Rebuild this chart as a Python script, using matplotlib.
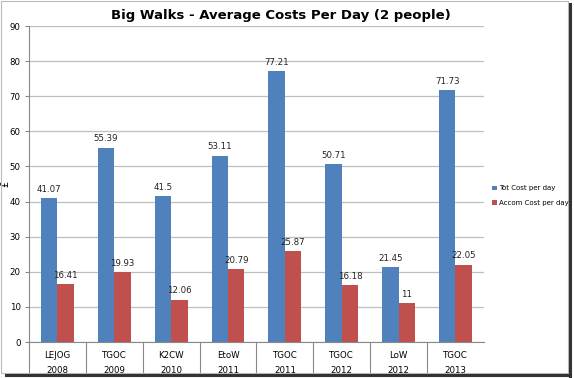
import numpy as np
import matplotlib.pyplot as plt
from matplotlib.patches import Rectangle
from matplotlib.lines import Line2D

walks = ["LEJOG", "TGOC", "K2CW", "EtoW", "TGOC", "TGOC", "LoW", "TGOC"]
years = ["2008", "2009", "2010", "2011", "2011", "2012", "2012", "2013"]
tot_cost = [41.07, 55.39, 41.5, 53.11, 77.21, 50.71, 21.45, 71.73]
accom_cost = [16.41, 19.93, 12.06, 20.79, 25.87, 16.18, 11, 22.05]
tot_labels = ["41.07", "55.39", "41.5", "53.11", "77.21", "50.71", "21.45", "71.73"]
accom_labels = ["16.41", "19.93", "12.06", "20.79", "25.87", "16.18", "11", "22.05"]

blue = "#4F81BD"
red = "#C0504D"

fig = plt.figure(figsize=(5.74, 3.78), dpi=100)
ax = fig.add_axes([0.0505, 0.0952, 0.7925, 0.8358])

x = np.arange(len(walks))
w = 0.29
b1 = ax.bar(x - w / 2, tot_cost, w, color=blue, label="Tot Cost per day")
b2 = ax.bar(x + w / 2, accom_cost, w, color=red, label="Accom Cost per day")

for bar, lab in zip(b1, tot_labels):
    ax.text(bar.get_x() + bar.get_width() / 2, bar.get_height() + 1.2, lab,
            ha="center", va="bottom", fontsize=6.2, color="#222222")
for bar, lab in zip(b2, accom_labels):
    ax.text(bar.get_x() + bar.get_width() / 2, bar.get_height() + 1.2, lab,
            ha="center", va="bottom", fontsize=6.2, color="#222222")

ax.set_xlim(-0.5, len(walks) - 0.5)
ax.set_ylim(0, 90)
ax.set_yticks(range(0, 91, 10))
ax.tick_params(axis="y", labelsize=6.2, length=3, color="#888888", pad=3)
ax.yaxis.grid(True, color="#BFBFBF", linewidth=0.9)
ax.set_axisbelow(True)
for s in ["top", "right"]:
    ax.spines[s].set_visible(False)
ax.spines["left"].set_color("#888888")
ax.spines["bottom"].set_color("#888888")
ax.set_xticks([])

# two-row category labels with separators
trans = ax.get_xaxis_transform()
for i in range(len(walks)):
    ax.text(i, -0.03, walks[i], transform=trans, ha="center", va="top", fontsize=6.2)
    ax.text(i, -0.075, years[i], transform=trans, ha="center", va="top", fontsize=6.2)
for i in range(len(walks)):
    ax.add_line(Line2D([i - 0.5, i - 0.5], [0, -0.1], transform=trans,
                       color="#888888", linewidth=0.8, clip_on=False))

ax.set_ylabel("£", fontsize=7)
ax.yaxis.set_label_coords(-0.04, 0.5)

fig.text(0.49, 0.975, "Big Walks - Average Costs Per Day (2 people)",
         ha="center", va="top", fontsize=9.5, fontweight="bold")

fig.legend(handles=[b1, b2], loc="upper left", bbox_to_anchor=(0.858, 0.51),
           frameon=False, fontsize=5.0, handlelength=0.6, handleheight=0.6,
           handletextpad=0.3, labelspacing=1.25, borderaxespad=0, borderpad=0)

# chart border with shadow on right/bottom
fig.add_artist(Rectangle((0.002, 0.012), 0.988, 0.985, transform=fig.transFigure,
                         fill=False, edgecolor="#BBBBBB", linewidth=0.8))
fig.add_artist(Line2D([0.993, 0.993], [0.005, 0.99], transform=fig.transFigure,
                      color="#333333", linewidth=2.2))
fig.add_artist(Line2D([0.01, 0.993], [0.008, 0.008], transform=fig.transFigure,
                      color="#333333", linewidth=2.2))

fig.savefig("out.png", dpi=100)
